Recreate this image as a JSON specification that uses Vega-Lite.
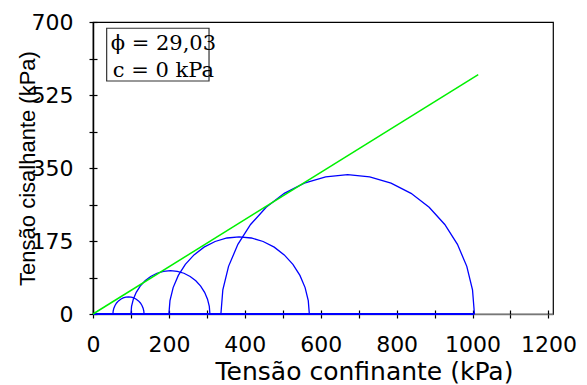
{
  "$schema": "https://vega.github.io/schema/vega-lite/v6.json",
  "width": 460,
  "height": 292,
  "autosize": "none",
  "padding": {"left": 93, "top": 22, "right": 34, "bottom": 71},
  "background": "white",
  "config": {
    "view": {"stroke": "#000", "strokeWidth": 1.2},
    "axis": {"grid": false, "labelFlush": false, "labelOverlap": false, "labelBound": false, "tickColor": "#000", "tickWidth": 1.2, "labelColor": "#000", "titleColor": "#000"}
  },
  "datasets": {
    "base": [{"s": 0, "t": 0}, {"s": 1005, "t": 0}],
    "env": [{"s": 0, "t": 0}, {"s": 1015, "t": 574}],
    "circles": [
      {"c": 1, "i": 0, "s": 134.5, "t": 0}, {"c": 1, "i": 1, "s": 133.88, "t": 7.12}, {"c": 1, "i": 2, "s": 132.03, "t": 14.02}, {"c": 1, "i": 3, "s": 129.01, "t": 20.5}, {"c": 1, "i": 4, "s": 124.91, "t": 26.35}, {"c": 1, "i": 5, "s": 119.85, "t": 31.41}, {"c": 1, "i": 6, "s": 114.0, "t": 35.51}, {"c": 1, "i": 7, "s": 107.52, "t": 38.53}, {"c": 1, "i": 8, "s": 100.62, "t": 40.38}, {"c": 1, "i": 9, "s": 93.5, "t": 41}, {"c": 1, "i": 10, "s": 86.38, "t": 40.38}, {"c": 1, "i": 11, "s": 79.48, "t": 38.53}, {"c": 1, "i": 12, "s": 73.0, "t": 35.51}, {"c": 1, "i": 13, "s": 67.15, "t": 31.41}, {"c": 1, "i": 14, "s": 62.09, "t": 26.35}, {"c": 1, "i": 15, "s": 57.99, "t": 20.5}, {"c": 1, "i": 16, "s": 54.97, "t": 14.02}, {"c": 1, "i": 17, "s": 53.12, "t": 7.12}, {"c": 1, "i": 18, "s": 52.5, "t": 0},
      {"c": 2, "i": 0, "s": 308, "t": 0}, {"c": 2, "i": 1, "s": 306.42, "t": 18.05}, {"c": 2, "i": 2, "s": 301.73, "t": 35.57}, {"c": 2, "i": 3, "s": 294.06, "t": 52}, {"c": 2, "i": 4, "s": 283.66, "t": 66.85}, {"c": 2, "i": 5, "s": 270.85, "t": 79.66}, {"c": 2, "i": 6, "s": 256, "t": 90.06}, {"c": 2, "i": 7, "s": 239.57, "t": 97.73}, {"c": 2, "i": 8, "s": 222.05, "t": 102.42}, {"c": 2, "i": 9, "s": 204, "t": 104}, {"c": 2, "i": 10, "s": 185.95, "t": 102.42}, {"c": 2, "i": 11, "s": 168.43, "t": 97.73}, {"c": 2, "i": 12, "s": 152, "t": 90.06}, {"c": 2, "i": 13, "s": 137.15, "t": 79.66}, {"c": 2, "i": 14, "s": 124.34, "t": 66.85}, {"c": 2, "i": 15, "s": 113.94, "t": 52}, {"c": 2, "i": 16, "s": 106.27, "t": 35.57}, {"c": 2, "i": 17, "s": 101.58, "t": 18.05}, {"c": 2, "i": 18, "s": 100, "t": 0},
      {"c": 3, "i": 0, "s": 570, "t": 0}, {"c": 3, "i": 1, "s": 567.19, "t": 32.12}, {"c": 3, "i": 2, "s": 558.84, "t": 63.27}, {"c": 3, "i": 3, "s": 545.21, "t": 92.5}, {"c": 3, "i": 4, "s": 526.71, "t": 118.92}, {"c": 3, "i": 5, "s": 503.92, "t": 141.71}, {"c": 3, "i": 6, "s": 477.5, "t": 160.21}, {"c": 3, "i": 7, "s": 448.27, "t": 173.84}, {"c": 3, "i": 8, "s": 417.12, "t": 182.19}, {"c": 3, "i": 9, "s": 385, "t": 185}, {"c": 3, "i": 10, "s": 352.88, "t": 182.19}, {"c": 3, "i": 11, "s": 321.73, "t": 173.84}, {"c": 3, "i": 12, "s": 292.5, "t": 160.21}, {"c": 3, "i": 13, "s": 266.08, "t": 141.71}, {"c": 3, "i": 14, "s": 243.29, "t": 118.92}, {"c": 3, "i": 15, "s": 224.79, "t": 92.5}, {"c": 3, "i": 16, "s": 211.16, "t": 63.27}, {"c": 3, "i": 17, "s": 202.81, "t": 32.12}, {"c": 3, "i": 18, "s": 200, "t": 0},
      {"c": 4, "i": 0, "s": 1005, "t": 0}, {"c": 4, "i": 1, "s": 999.92, "t": 57.98}, {"c": 4, "i": 2, "s": 984.86, "t": 114.23}, {"c": 4, "i": 3, "s": 960.24, "t": 167}, {"c": 4, "i": 4, "s": 926.84, "t": 214.7}, {"c": 4, "i": 5, "s": 885.7, "t": 255.84}, {"c": 4, "i": 6, "s": 838, "t": 289.24}, {"c": 4, "i": 7, "s": 785.23, "t": 313.86}, {"c": 4, "i": 8, "s": 728.98, "t": 328.92}, {"c": 4, "i": 9, "s": 671, "t": 334}, {"c": 4, "i": 10, "s": 613.02, "t": 328.92}, {"c": 4, "i": 11, "s": 556.77, "t": 313.86}, {"c": 4, "i": 12, "s": 504, "t": 289.24}, {"c": 4, "i": 13, "s": 456.3, "t": 255.84}, {"c": 4, "i": 14, "s": 415.16, "t": 214.7}, {"c": 4, "i": 15, "s": 381.76, "t": 167}, {"c": 4, "i": 16, "s": 357.14, "t": 114.23}, {"c": 4, "i": 17, "s": 342.08, "t": 57.98}, {"c": 4, "i": 18, "s": 337, "t": 0}
    ],
    "box": [{"s1": 36, "s2": 305.7, "t1": 558.6, "t2": 685}],
    "labels": [{"label": "ϕ = 29,03", "s": 46.6, "t": 633}, {"label": "c = 0 kPa", "s": 52, "t": 567.5}]
  },
  "layer": [
    {
      "data": {"name": "base"},
      "mark": {"type": "line", "color": "#0000ff", "strokeWidth": 2.2},
      "encoding": {
        "x": {"field": "s", "type": "quantitative", "scale": {"domain": [0, 1212], "nice": false, "zero": false},
          "axis": {"orient": "bottom", "values": [0, 100, 200, 300, 400, 500, 600, 700, 800, 900, 1000, 1100, 1200], "format": "d",
            "labelExpr": "datum.value % 200 === 0 ? datum.label : ''",
            "tickSize": 4, "domainColor": "#777", "domainWidth": 1.5,
            "labelFont": "DejaVu Sans", "labelFontSize": 22, "labelPadding": 16, "labelDx": -4,
            "title": "Tensão confinante (kPa)", "titleFont": "DejaVu Sans", "titleFontSize": 25, "titleFontWeight": "normal",
            "titleX": 271, "titleY": 65, "titleAlign": "center", "titleBaseline": "alphabetic"}},
        "y": {"field": "t", "type": "quantitative", "scale": {"domain": [0, 700], "nice": false},
          "axis": {"orient": "left", "values": [0, 87.5, 175, 262.5, 350, 437.5, 525, 612.5, 700], "format": "d",
            "labelExpr": "datum.value % 175 === 0 ? datum.label : ''",
            "tickSize": 4, "domainColor": "#000", "domainWidth": 1.5,
            "labelFont": "DejaVu Sans", "labelFontSize": 22, "labelPadding": 16,
            "title": "Tensão cisalhante (kPa)", "titleFont": "Liberation Sans", "titleFontSize": 22, "titleFontWeight": "normal",
            "titleX": -66, "titleY": 146, "titleAngle": -90, "titleAlign": "center", "titleBaseline": "middle"}}
      }
    },
    {
      "data": {"name": "circles"},
      "mark": {"type": "line", "color": "#0000ff", "strokeWidth": 1.3},
      "encoding": {
        "x": {"field": "s", "type": "quantitative", "scale": {"domain": [0, 1212], "nice": false, "zero": false},
          "axis": {"orient": "bottom", "values": [0, 100, 200, 300, 400, 500, 600, 700, 800, 900, 1000, 1100, 1200], "tickSize": -4, "labels": false, "domain": false, "title": null}},
        "y": {"field": "t", "type": "quantitative", "scale": {"domain": [0, 700], "nice": false},
          "axis": {"orient": "left", "values": [0, 87.5, 175, 262.5, 350, 437.5, 525, 612.5, 700], "tickSize": -4, "labels": false, "domain": false, "title": null}},
        "detail": {"field": "c", "type": "nominal"},
        "order": {"field": "i", "type": "quantitative"}
      }
    },
    {
      "data": {"name": "env"},
      "mark": {"type": "line", "color": "#00f000", "strokeWidth": 1.5},
      "encoding": {
        "x": {"field": "s", "type": "quantitative", "scale": {"domain": [0, 1212], "nice": false, "zero": false}, "axis": null},
        "y": {"field": "t", "type": "quantitative", "scale": {"domain": [0, 700], "nice": false}, "axis": null}
      }
    },
    {
      "data": {"name": "box"},
      "mark": {"type": "rect", "fill": null, "filled": false, "stroke": "#333", "strokeWidth": 1.2},
      "encoding": {
        "x": {"field": "s1", "type": "quantitative", "scale": {"domain": [0, 1212], "nice": false, "zero": false}, "axis": null},
        "x2": {"field": "s2"},
        "y": {"field": "t1", "type": "quantitative", "scale": {"domain": [0, 700], "nice": false}, "axis": null},
        "y2": {"field": "t2"}
      }
    },
    {
      "data": {"name": "labels"},
      "mark": {"type": "text", "align": "left", "baseline": "alphabetic", "font": "DejaVu Serif", "fontSize": 21, "color": "#000"},
      "encoding": {
        "x": {"field": "s", "type": "quantitative", "scale": {"domain": [0, 1212], "nice": false, "zero": false}, "axis": null},
        "y": {"field": "t", "type": "quantitative", "scale": {"domain": [0, 700], "nice": false}, "axis": null},
        "text": {"field": "label", "type": "nominal"}
      }
    }
  ],
  "resolve": {"axis": {"x": "independent", "y": "independent"}}
}
